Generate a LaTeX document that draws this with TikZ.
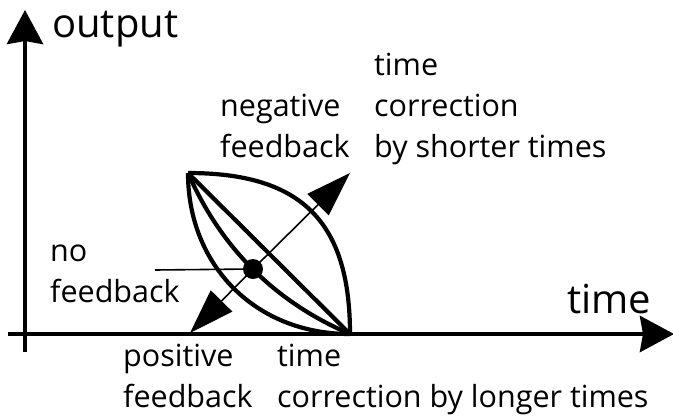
\documentclass[tikz,border=0pt]{standalone}
\usepackage{fontspec}
\setmainfont{Open Sans}
\usetikzlibrary{arrows.meta,positioning}

\begin{document}
\begin{tikzpicture}[x=1pt,y=-1pt,
  axis/.style={line width=4.5pt, -{Stealth[length=34pt,width=36pt,inset=3pt]}},
  curve/.style={line width=4.2pt},
  fbarrow/.style={line width=1.6pt, -{Triangle[length=45pt,width=30pt]}},
  thin/.style={line width=1.6pt},
  lbl/.style={anchor=base west, inner sep=0pt, align=left,
    font=\fontsize{30.5}{41}\selectfont},
  axlbl/.style={anchor=base west, inner sep=0pt,
    font=\fontsize{40}{48}\selectfont}
]
\useasboundingbox (0,0) rectangle (673,416);
% axes
\coordinate (o1) at (25,352);
\coordinate (ytip) at (25,10);
\coordinate (o2) at (8,334);
\coordinate (xtip) at (674,334);
\draw[axis] (o1) -- (ytip);
\draw[axis] (o2) -- (xtip);
\node[axlbl] (outl) at (52,37) {output};
\node[axlbl] (timel) at (567,313) {time};
% lens
\coordinate (lt) at (188,173);
\coordinate (rb) at (350,334);
\draw[curve, line join=round] (lt) .. controls (300,173) and (350,220) .. (rb);
\draw[curve, line join=round] (lt) .. controls (188,265) and (255,334) .. (rb);
\draw[curve] (lt) .. controls (221,248) and (275,302) .. (rb);
\draw[curve] (lt) -- (rb);
% feedback direction
\node[circle, fill=black, inner sep=0pt, minimum size=20pt] (dot) at (253,269) {};
\coordinate (neg) at (350,173);
\coordinate (pos) at (190,333);
\draw[fbarrow] (dot.center) -- (neg);
\draw[fbarrow] (dot.center) -- (pos);
\coordinate (nfb) at (155,270);
\draw[thin] (nfb) -- (dot);
% labels (base = last line)
\node[lbl] (nofb) at (50,302) {no\\feedback};
\node[lbl] (negfb) at (220,157) {negative\\feedback};
\node[lbl] (short) at (374,157) {time\\correction\\by shorter times};
\node[lbl] (posfb) at (123,407) {positive\\feedback};
\node[lbl] (long) at (277,407) {time\\correction by longer times};
\end{tikzpicture}
\end{document}
